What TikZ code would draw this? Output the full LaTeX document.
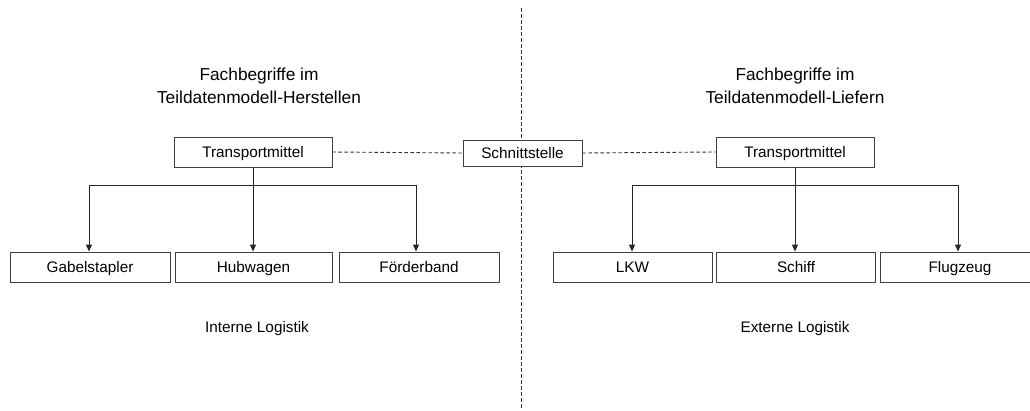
\documentclass[tikz,border=0pt]{standalone}
\usepackage{fontspec}
\setmainfont{Liberation Sans}
\usetikzlibrary{arrows.meta}
\begin{document}
\begin{tikzpicture}[x=1pt,y=-1pt,
  box/.style={draw=black!75,line width=0.9pt,fill=white,inner sep=0pt,
    text height=11pt,text depth=0pt,
    font=\fontsize{15.3}{18}\selectfont},
  lbl/.style={inner sep=0pt,text height=11pt,text depth=0pt,font=\fontsize{15.3}{18}\selectfont},
  ttl/.style={inner sep=0pt,align=center,font=\fontsize{17.3}{23.5}\selectfont},
  conn/.style={draw=black!85,line width=0.9pt},
  arr/.style={conn,-{Triangle[length=7pt,width=6pt]}},
  dsh/.style={draw=black!80,line width=0.9pt,dash pattern=on 3.5pt off 2.5pt}]
\useasboundingbox (0,0) rectangle (1030,410);
\fill[white] (0,0) rectangle (1030,410);
% divider
\coordinate (dtop) at (521,8);
\coordinate (dbot) at (521,408);
\draw[dsh] (dtop) -- (dbot);
% titles
\node[ttl] (tl) at (259,86) {Fachbegriffe im\\Teildatenmodell-Herstellen};
\node[ttl] (tr) at (795,86) {Fachbegriffe im\\Teildatenmodell-Liefern};
% top boxes
\node[box,minimum width=158pt,minimum height=30pt] (ltm) at (253,152) {Transportmittel};
\node[box,minimum width=158pt,minimum height=30pt] (rtm) at (795,152) {Transportmittel};
\node[box,minimum width=119pt,minimum height=26pt] (sch) at (522.5,153) {Schnittstelle};
\draw[dsh] (ltm.east) -- (sch.west);
\draw[dsh] (sch.east) -- (rtm.west);
% bottom boxes left
\node[box,minimum width=160pt,minimum height=30pt] (gab) at (90,267) {Gabelstapler};
\node[box,minimum width=157pt,minimum height=30pt] (hub) at (253.5,267) {Hubwagen};
\node[box,minimum width=160pt,minimum height=30pt] (foe) at (419,267) {Förderband};
% bottom boxes right
\node[box,minimum width=159pt,minimum height=30pt] (lkw) at (632.5,267) {LKW};
\node[box,minimum width=159pt,minimum height=30pt] (sfi) at (796,267) {Schiff};
\node[box,minimum width=160pt,minimum height=30pt] (flz) at (960,267) {Flugzeug};
% connectors left
\coordinate (jl) at (253,185);
\draw[arr] (ltm.south) -- (ltm.south |- hub.north);
\draw[conn] (ltm.south) -- (jl);
\draw[arr] (jl) -| ([xshift=-1pt]gab.north);
\draw[arr] (jl) -| ([xshift=-3pt]foe.north);
% connectors right
\coordinate (jr) at (795,185);
\draw[arr] (rtm.south) -- (rtm.south |- sfi.north);
\draw[arr] (jr) -| ([xshift=-0.5pt]lkw.north);
\draw[arr] (jr) -| ([xshift=-2pt]flz.north);
% footers
\node[lbl] (il) at (257,327) {Interne Logistik};
\node[lbl] (el) at (795,327) {Externe Logistik};
\end{tikzpicture}
\end{document}
